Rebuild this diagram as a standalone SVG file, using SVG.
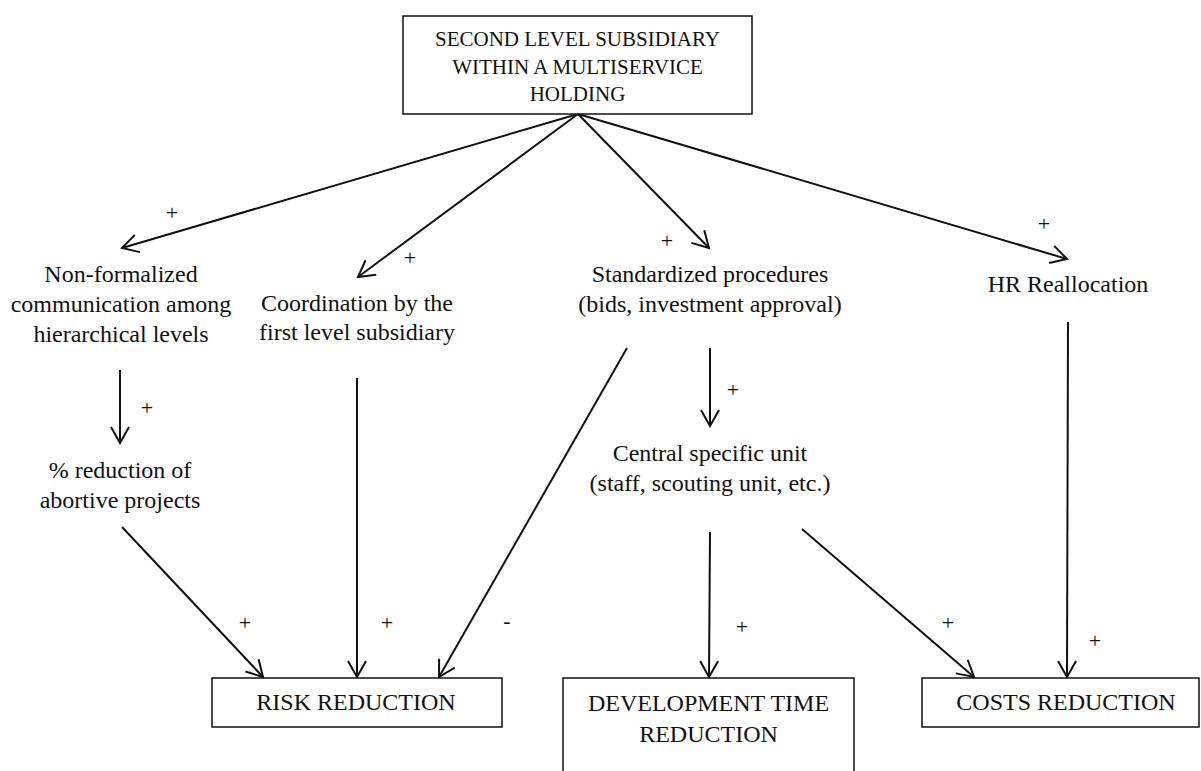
<svg xmlns="http://www.w3.org/2000/svg" width="1201" height="771" viewBox="0 0 1201 771">
<style>
text{font-family:"Liberation Serif","Times New Roman",serif;fill:#111;}
.t{font-size:24px;text-anchor:middle;}
.h{font-size:21px;text-anchor:middle;}
.s{font-size:22px;text-anchor:middle;}
.box{fill:#fff;stroke:#111;stroke-width:1.5;}
.c{fill:none;stroke:#111;stroke-width:2;marker-end:url(#arr);}
</style>
<defs>
<marker id="arr" viewBox="0 0 20 20" refX="18" refY="10" markerWidth="20" markerHeight="20" markerUnits="userSpaceOnUse" orient="auto">
<path d="M2,1 L18,10 L2,19" fill="none" stroke="#111" stroke-width="2"/>
</marker>
</defs>
<rect width="1201" height="771" fill="#fff"/>
<g id="connectors">
<path class="c" d="M578,114 L122,248"/>
<path class="c" d="M578,114 L358,277"/>
<path class="c" d="M578,114 L709,248"/>
<path class="c" d="M578,114 L1067,259"/>
<path class="c" d="M120,370 L120,443"/>
<path class="c" d="M122,527 L263,677"/>
<path class="c" d="M357,378 L357,677"/>
<path class="c" d="M627,348 L439,677"/>
<path class="c" d="M710,348 L710,426"/>
<path class="c" d="M710,532 L709,677"/>
<path class="c" d="M802,529 L974,677"/>
<path class="c" d="M1068,322 L1067,677"/>
</g>
<g id="labels">
<text class="s" x="172" y="220">+</text>
<text class="s" x="410" y="265">+</text>
<text class="s" x="667" y="248">+</text>
<text class="s" x="1044" y="231">+</text>
<text class="s" x="147" y="415">+</text>
<text class="s" x="733" y="397">+</text>
<text class="s" x="245" y="630">+</text>
<text class="s" x="387" y="630">+</text>
<text class="s" x="507" y="628">-</text>
<text class="s" x="742" y="634">+</text>
<text class="s" x="948" y="630">+</text>
<text class="s" x="1095" y="648">+</text>
</g>
<g id="top">
<rect class="box" x="403" y="16" width="349" height="98"/>
<text class="h" x="577.5" y="46">SECOND LEVEL SUBSIDIARY</text>
<text class="h" x="577.5" y="74">WITHIN A MULTISERVICE</text>
<text class="h" x="577.5" y="101">HOLDING</text>
</g>
<g id="nonformalized">
<text class="t" x="121" y="282">Non-formalized</text>
<text class="t" x="121" y="312">communication among</text>
<text class="t" x="121" y="342">hierarchical levels</text>
</g>
<g id="coordination">
<text class="t" x="357" y="311">Coordination by the</text>
<text class="t" x="357" y="340">first level subsidiary</text>
</g>
<g id="standardized">
<text class="t" x="710" y="282">Standardized procedures</text>
<text class="t" x="710" y="312">(bids, investment approval)</text>
</g>
<g id="hr">
<text class="t" x="1068" y="292">HR Reallocation</text>
</g>
<g id="abortive">
<text class="t" x="120" y="478">% reduction of</text>
<text class="t" x="120" y="508">abortive projects</text>
</g>
<g id="central">
<text class="t" x="710" y="461">Central specific unit</text>
<text class="t" x="710" y="491">(staff, scouting unit, etc.)</text>
</g>
<g id="risk">
<rect class="box" x="212" y="678" width="290" height="49"/>
<text class="t" x="356" y="710">RISK REDUCTION</text>
</g>
<g id="development">
<rect class="box" x="563" y="678" width="291" height="100"/>
<text class="t" x="708.5" y="711">DEVELOPMENT TIME</text>
<text class="t" x="708.5" y="742">REDUCTION</text>
</g>
<g id="costs">
<rect class="box" x="922" y="678" width="277" height="49"/>
<text class="t" x="1066" y="710">COSTS REDUCTION</text>
</g>
</svg>
